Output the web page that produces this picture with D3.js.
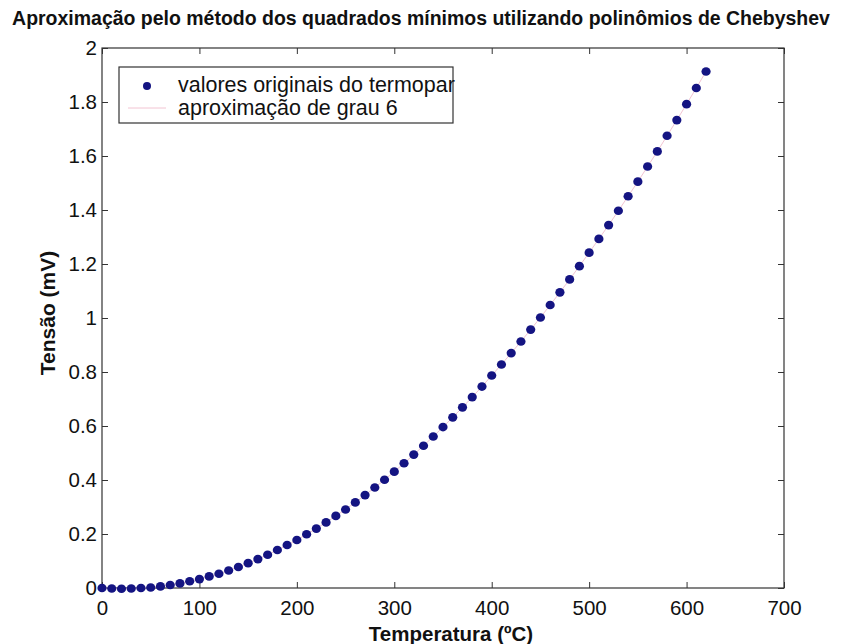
<!DOCTYPE html>
<html><head><meta charset="utf-8">
<script src="https://cdn.jsdelivr.net/npm/d3@7"></script>
<style>body{margin:0;background:#fff}svg{display:block}text{font-family:"Liberation Sans",Arial,sans-serif}</style>
</head><body>
<svg id="c" width="844" height="644"></svg>
<script>
const temperatures = [0,10,20,30,40,50,60,70,80,90,100,110,120,130,140,150,160,170,180,190,200,210,220,230,240,250,260,270,280,290,300,310,320,330,340,350,360,370,380,390,400,410,420,430,440,450,460,470,480,490,500,510,520,530,540,550,560,570,580,590,600,610,620];
const voltages = [0.000,-0.002,-0.003,-0.002,0.000,0.002,0.006,0.011,0.017,0.025,0.033,0.043,0.053,0.065,0.078,0.092,0.107,0.123,0.141,0.159,0.178,0.199,0.220,0.243,0.267,0.291,0.317,0.344,0.372,0.401,0.431,0.462,0.494,0.527,0.561,0.596,0.632,0.669,0.707,0.746,0.787,0.828,0.870,0.913,0.957,1.002,1.048,1.095,1.143,1.192,1.242,1.293,1.344,1.397,1.451,1.505,1.561,1.617,1.675,1.733,1.792,1.852,1.913];
const xTicks = [0,100,200,300,400,500,600,700];
const yTicks = [0,0.2,0.4,0.6,0.8,1,1.2,1.4,1.6,1.8,2];
const legendLabels = ["valores originais do termopar","aproximação de grau 6"];
const titleText = "Aproximação pelo método dos quadrados mínimos utilizando polinômios de Chebyshev";
const xLabel = "Temperatura (ºC)";
const yLabel = "Tensão (mV)";

const svg = d3.select("#c");
const L=102, R=784, T=48, B=588;
const x = d3.scaleLinear().domain([0,700]).range([L,R]);
const y = d3.scaleLinear().domain([0,2]).range([B,T]);
const axisCol="#333";

// frame
svg.append("rect").attr("x",L).attr("y",T).attr("width",R-L).attr("height",B-T)
  .attr("fill","none").attr("stroke",axisCol).attr("stroke-width",1.2);

// axes with inward ticks
const fmt = d=>String(+d.toFixed(1));
const gx = svg.append("g").attr("transform",`translate(0,${B})`)
  .call(d3.axisBottom(x).tickValues(xTicks).tickSizeInner(-6).tickSizeOuter(0).tickPadding(12).tickFormat(fmt));
const gxt = svg.append("g").attr("transform",`translate(0,${T})`)
  .call(d3.axisTop(x).tickValues(xTicks).tickSizeInner(-6).tickSizeOuter(0).tickFormat(""));
const gy = svg.append("g").attr("transform",`translate(${L},0)`)
  .call(d3.axisLeft(y).tickValues(yTicks).tickSizeInner(-6).tickSizeOuter(0).tickPadding(5).tickFormat(fmt));
const gyr = svg.append("g").attr("transform",`translate(${R},0)`)
  .call(d3.axisRight(y).tickValues(yTicks).tickSizeInner(-6).tickSizeOuter(0).tickFormat(""));
[gx,gxt,gy,gyr].forEach(g=>{
  g.select(".domain").remove();
  g.selectAll("line").attr("stroke",axisCol);
  g.selectAll("text").attr("font-size",20.5).attr("fill","#111").attr("font-family","'Liberation Sans',Arial,sans-serif");
});

// approximation line (faint)
svg.append("path").datum(temperatures.map((t,i)=>[t,voltages[i]]))
  .attr("d",d3.line().x(d=>x(d[0])).y(d=>y(d[1])))
  .attr("fill","none").attr("stroke","#f2c4d2").attr("stroke-width",1);

// points
svg.append("g").selectAll("ellipse").data(temperatures).join("ellipse")
  .attr("cx",(d)=>x(d)).attr("cy",(d,i)=>y(voltages[i])).attr("rx",4.6).attr("ry",4.3)
  .attr("fill","#141482");

// title
const tt = svg.append("text").attr("x",421).attr("y",25).attr("text-anchor","middle")
  .attr("font-size",17).attr("font-weight","bold").attr("fill","#111").text(titleText);
const tw = tt.node().getComputedTextLength();
tt.attr("font-size",17*818/tw);

// axis labels
svg.append("text").attr("x",451).attr("y",641).attr("text-anchor","middle")
  .attr("font-size",20.5).attr("font-weight","bold").attr("fill","#111").text(xLabel);
svg.append("text").attr("transform",`translate(55,313) rotate(-90)`).attr("text-anchor","middle")
  .attr("font-size",21).attr("font-weight","bold").attr("fill","#111").text(yLabel);

// legend
const lg = svg.append("g");
lg.append("rect").attr("x",119).attr("y",67).attr("width",334).attr("height",56)
  .attr("fill","#fff").attr("stroke",axisCol).attr("stroke-width",1.2);
lg.append("circle").attr("cx",147).attr("cy",86).attr("r",4).attr("fill","#141482");
lg.append("line").attr("x1",128).attr("x2",166).attr("y1",108).attr("y2",108).attr("stroke","#f2c4d2").attr("stroke-width",1);
const l1 = lg.append("text").attr("x",178).attr("y",92).attr("font-size",18).attr("fill","#111").text(legendLabels[0]);
const w1 = l1.node().getComputedTextLength();
const fs = 18*277/w1;
l1.attr("font-size",fs);
lg.append("text").attr("x",178).attr("y",115).attr("font-size",fs).attr("fill","#111").text(legendLabels[1]);
</script>
</body></html>
